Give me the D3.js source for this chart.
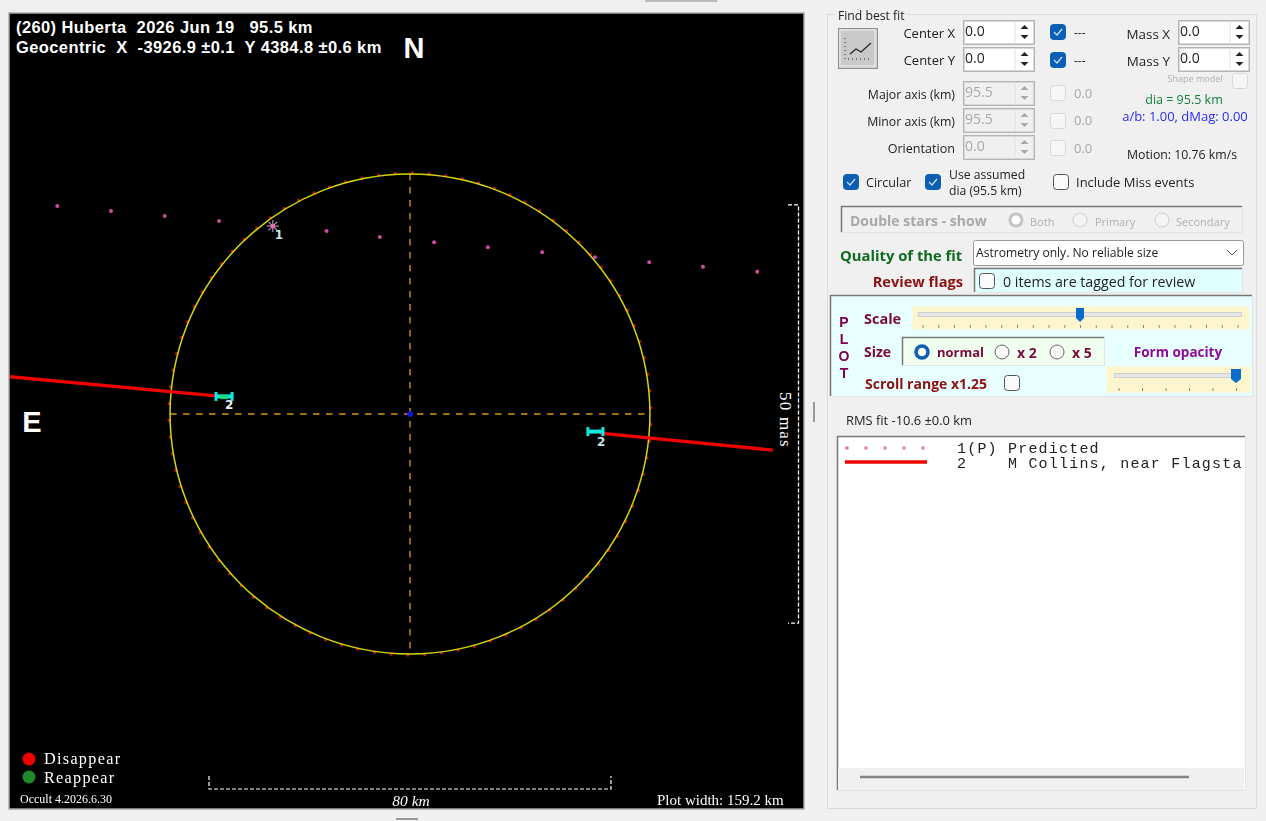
<!DOCTYPE html>
<html>
<head>
<meta charset="utf-8">
<title>(260) Huberta</title>
<script src="https://cdn.jsdelivr.net/npm/d3@7"></script>
<style>
  html, body { margin: 0; padding: 0; background: #f0f0f0; overflow: hidden; }
  svg { display: block; filter: blur(0.35px); }
  text { white-space: pre; }
</style>
</head>
<body>
<svg id="main" width="1266" height="821"></svg>
<script>
// predicted path, km east / north of the centre
var predictedEast = [70.2, 59.5, 48.8, 38.0, 27.3, 16.6, 6.0, -4.8, -15.5, -26.3, -36.8, -47.6, -58.3, -69.1]
var predictedNorth = [41.4, 40.4, 39.4, 38.4, 37.4, 36.4, 35.2, 34.2, 33.2, 32.2, 31.2, 30.2, 29.3, 28.3]
// observed chord, outer and inner ends of the two pieces
var chordLeftEast = [79.6, 38.6]
var chordLeftNorth = [7.4, 3.6]
var chordRightEast = [-37.8, -72.2]
var chordRightNorth = [-3.8, -7.2]
// error bars at the chord ends
var errorLeftEast = [38.6, 35.4]
var errorLeftNorth = [3.5, 3.5]
var errorRightEast = [-35.4, -38.4]
var errorRightNorth = [-3.5, -3.5]
var diameterKm = 95.5
var limbAngles = d3.range(0.5, 360, 4)
var scaleBarKm = [40, -40]
var masBarKm = [41.6, -41.6]
var listRows = ["1(P)", "2"]
var listNames = ["Predicted", "M Collins, near Flagsta"]

var svg = d3.select("#main")
var uiFont = "'Open Sans', 'Noto Sans', sans-serif"

// km -> pixel scales; east is on the left
var x = d3.scaleLinear().domain([80, -80]).range([8, 812])
var y = d3.scaleLinear().domain([80, -80]).range([12, 816])
var rPx = x(0) - x(diameterKm / 2)

function label(g, str, px, py, o) {
  o = o || {}
  return g.append("text")
    .attr("x", px).attr("y", py)
    .attr("font-family", o.font || uiFont)
    .attr("font-size", o.size || 12)
    .attr("font-weight", o.weight || "normal")
    .attr("font-style", o.style || "normal")
    .attr("letter-spacing", o.spacing || 0)
    .attr("fill", o.fill || "#222")
    .attr("text-anchor", o.anchor || "start")
    .attr("dominant-baseline", "central")
    .text(str)
}

// ---------- plot panel ----------
var plot = svg.append("g")
plot.append("rect").attr("x", 9).attr("y", 13).attr("width", 795).attr("height", 796)
  .attr("fill", "#000").attr("stroke", "#a8a8a8").attr("stroke-width", 1.5)

var clip = svg.append("clipPath").attr("id", "plot-clip")
clip.append("rect").attr("x", 10).attr("y", 14).attr("width", 794).attr("height", 794)
var inner = plot.append("g").attr("clip-path", "url(#plot-clip)")

// 十字线
inner.append("line").attr("x1", x(47.75)).attr("x2", x(-47.75)).attr("y1", y(0)).attr("y2", y(0))
  .attr("stroke", "#a0720f").attr("stroke-width", 1.8).attr("stroke-dasharray", "6.5,6.5")
inner.append("line").attr("y1", y(47.75)).attr("y2", y(-47.75)).attr("x1", x(0)).attr("x2", x(0))
  .attr("stroke", "#a0720f").attr("stroke-width", 1.8).attr("stroke-dasharray", "6.5,6.5")

// limb marks and outline
inner.selectAll("circle.limb").data(limbAngles).enter().append("circle")
  .attr("class", "limb")
  .attr("cx", function (d) { return x(0) + (rPx + 1) * Math.sin(d * Math.PI / 180) })
  .attr("cy", function (d) { return y(0) - (rPx + 1) * Math.cos(d * Math.PI / 180) })
  .attr("r", 1.7).attr("fill", "#a81414")
inner.append("circle").attr("cx", x(0)).attr("cy", y(0)).attr("r", rPx)
  .attr("fill", "none").attr("stroke", "#d6d60a").attr("stroke-width", 1.5)
inner.append("circle").attr("cx", x(0)).attr("cy", y(0)).attr("r", 3).attr("fill", "#1414e0")

// predicted path
inner.selectAll("circle.pred").data(predictedEast).enter().append("circle")
  .attr("class", "pred")
  .attr("cx", function (d) { return x(d) })
  .attr("cy", function (d, i) { return y(predictedNorth[i]) })
  .attr("r", 2).attr("fill", "#d04c9c")

// star marker at the predicted centre
var starX = x(predictedEast[4]), starY = y(predictedNorth[4])
d3.range(0, 180, 45).forEach(function (a) {
  var dx = 6 * Math.cos(a * Math.PI / 180), dy = 6 * Math.sin(a * Math.PI / 180)
  inner.append("line").attr("x1", starX - dx).attr("x2", starX + dx).attr("y1", starY - dy).attr("y2", starY + dy)
    .attr("stroke", "#b9a0b4").attr("stroke-width", 1.1)
})
inner.append("circle").attr("cx", starX).attr("cy", starY).attr("r", 2.4).attr("fill", "#f06ab4")
label(inner, "1", starX + 2, starY + 9, { fill: "#bfe8e8", size: 12, font: "'DejaVu Sans'", weight: 700 })

// chord pieces
var chordLine = d3.line().x(function (d) { return x(d[0]) }).y(function (d) { return y(d[1]) })
inner.append("path").attr("d", chordLine(d3.zip(chordLeftEast, chordLeftNorth)))
  .attr("fill", "none").attr("stroke", "#f00000").attr("stroke-width", 3.4)
inner.append("path").attr("d", chordLine(d3.zip(chordRightEast, chordRightNorth)))
  .attr("fill", "none").attr("stroke", "#f00000").attr("stroke-width", 3.4)

function errorBar(east, north) {
  inner.append("line").attr("x1", x(east[0])).attr("x2", x(east[1])).attr("y1", y(north[0])).attr("y2", y(north[1]))
    .attr("stroke", "#10e8e0").attr("stroke-width", 4)
  east.forEach(function (d, i) {
    inner.append("line").attr("x1", x(d)).attr("x2", x(d)).attr("y1", y(north[i]) - 4.5).attr("y2", y(north[i]) + 4.5)
      .attr("stroke", "#10e8e0").attr("stroke-width", 3)
  })
}
errorBar(errorLeftEast, errorLeftNorth)
errorBar(errorRightEast, errorRightNorth)
inner.append("line").attr("x1", x(37.8)).attr("x2", x(36.2)).attr("y1", y(3.4)).attr("y2", y(3.4))
  .attr("stroke", "#10d880").attr("stroke-width", 4.5)
label(inner, "2", x(errorLeftEast[1]) - 7, y(errorLeftNorth[0]) + 9, { fill: "#eef", size: 12, font: "'DejaVu Sans'", weight: 700 })
label(inner, "2", x(errorRightEast[0]) + 9, y(errorRightNorth[0]) + 10, { fill: "#bfe8f0", size: 12, font: "'DejaVu Sans'", weight: 700 })

// headings
var titleFont = "'Liberation Sans', sans-serif"
label(plot, "(260) Huberta  2026 Jun 19   95.5 km", 16, 27, { fill: "#fff", weight: 700, size: 16.5, font: titleFont, spacing: 0.4 })
label(plot, "Geocentric  X  -3926.9 ±0.1  Y 4384.8 ±0.6 km", 16, 47, { fill: "#fff", weight: 700, size: 16.5, font: titleFont, spacing: 0.4 })
label(plot, "N", 414, 48, { fill: "#fff", weight: 700, size: 29, font: titleFont, anchor: "middle" })
label(plot, "E", 32, 422, { fill: "#fff", weight: 700, size: 29, font: titleFont, anchor: "middle" })

// 50 mas bracket
var bracket = d3.path()
bracket.moveTo(788, y(masBarKm[0]))
bracket.lineTo(798.5, y(masBarKm[0]))
bracket.lineTo(798.5, y(masBarKm[1]))
bracket.lineTo(788, y(masBarKm[1]))
plot.append("path").attr("d", bracket.toString()).attr("fill", "none")
  .attr("stroke", "#fff").attr("stroke-width", 1.3).attr("stroke-dasharray", "4,2")
label(plot, "50 mas", 0, 0, { fill: "#fff", size: 17, font: "'Liberation Serif'", anchor: "middle", spacing: 1.2 })
  .attr("transform", "translate(785,420) rotate(90)")

// 80 km bar
var bar = d3.path()
bar.moveTo(x(scaleBarKm[0]), 776)
bar.lineTo(x(scaleBarKm[0]), 789)
bar.lineTo(x(scaleBarKm[1]), 789)
bar.lineTo(x(scaleBarKm[1]), 776)
plot.append("path").attr("d", bar.toString()).attr("fill", "none")
  .attr("stroke", "#fff").attr("stroke-width", 1.2).attr("stroke-dasharray", "4,2")
label(plot, "80 km", x(0) + 1, 800, { fill: "#fff", size: 15.5, style: "italic", font: "'Liberation Serif'", anchor: "middle" })
label(plot, "Plot width: 159.2 km", 657, 800, { fill: "#fff", size: 15, font: "'Liberation Serif'" })
label(plot, "Occult 4.2026.6.30", 20, 799, { fill: "#fff", size: 12, font: "'Liberation Serif'" })

plot.append("circle").attr("cx", 29).attr("cy", 759).attr("r", 6.5).attr("fill", "#f00000")
plot.append("circle").attr("cx", 29).attr("cy", 777).attr("r", 6.5).attr("fill", "#1f8a2a")
label(plot, "Disappear", 44, 758.5, { fill: "#fff", size: 16.2, font: "'Liberation Serif'", spacing: 1.3 })
label(plot, "Reappear", 44, 777.5, { fill: "#fff", size: 16.2, font: "'Liberation Serif'", spacing: 1.3 })

// ---------- right hand form ----------
var form = svg.append("g")

function box(px, py, w, h, fill, stroke, rx) {
  return form.append("rect").attr("x", px + 0.5).attr("y", py + 0.5).attr("width", w).attr("height", h)
    .attr("fill", fill || "none").attr("stroke", stroke || "none").attr("rx", rx || 0)
}
function insetBox(px, py, w, h, fill) {
  box(px, py, w, h, fill, "#e4e4e4")
  form.append("path").attr("d", "M" + (px + 0.5) + "," + (py + h) + "V" + (py + 0.5) + "H" + (px + w))
    .attr("fill", "none").attr("stroke", "#777").attr("stroke-width", 1.5)
}
function spin(px, py, value, enabled) {
  var w = 71, h = 24, col = enabled ? "#222" : "#a8a8a8"
  box(px, py, w, h, enabled ? "#fff" : "#f0f0f0", "#b4b4b4")
  box(px + 1, py + 1, w - 2, h - 2, null, "#d8d8d8")
  form.append("line").attr("x1", px + 52).attr("x2", px + 52).attr("y1", py + 1).attr("y2", py + h)
    .attr("stroke", "#e0e0e0")
  label(form, value, px + 2, py + 10.5, { size: 14, fill: col })
  var cx = px + 61.5, cy = py + 12
  form.append("path").attr("d", "M" + (cx - 4) + "," + (cy - 3) + "L" + cx + "," + (cy - 7) + "L" + (cx + 4) + "," + (cy - 3) + "Z").attr("fill", col)
  form.append("path").attr("d", "M" + (cx - 4) + "," + (cy + 3) + "L" + cx + "," + (cy + 7) + "L" + (cx + 4) + "," + (cy + 3) + "Z").attr("fill", col)
}
function check(px, py, state) {
  // state: 1 ticked, 0 empty, -1 disabled
  if (state === 1) {
    box(px, py, 15, 15, "#0a5fb4", "#0a5fb4", 3)
    form.append("path").attr("d", "M" + (px + 4) + "," + (py + 8) + "l3,3l5,-6")
      .attr("fill", "none").attr("stroke", "#cfe4f7").attr("stroke-width", 1.2)
  } else if (state === 0) {
    box(px, py, 15, 15, "#fbfbfb", "#555", 3)
  } else {
    box(px, py, 15, 15, "#f6f6f6", "#d8d8d8", 3)
  }
}
function radio(cx, cy, state) {
  if (state === 1) {
    form.append("circle").attr("cx", cx).attr("cy", cy).attr("r", 6).attr("fill", "#fff")
      .attr("stroke", "#0a5fb4").attr("stroke-width", 3.5)
  } else if (state === 0) {
    form.append("circle").attr("cx", cx).attr("cy", cy).attr("r", 7).attr("fill", "#fafafa").attr("stroke", "#666")
  } else if (state === 2) {
    form.append("circle").attr("cx", cx).attr("cy", cy).attr("r", 6).attr("fill", "#fff")
      .attr("stroke", "#c4c4c4").attr("stroke-width", 3)
  } else {
    form.append("circle").attr("cx", cx).attr("cy", cy).attr("r", 7).attr("fill", "#f4f4f4").attr("stroke", "#cfcfcf")
  }
}
function slider(bx, by, bw, bh, tx, tw, ty, thumbX, thumbW, tick0, step, n, tickY) {
  box(bx, by, bw, bh, "#fdf5cd")
  box(tx, ty - 2, tw, 4, "#e6e6e6", "#d0d0d0")
  d3.range(n).forEach(function (i) {
    form.append("line").attr("x1", tick0 + i * step).attr("x2", tick0 + i * step)
      .attr("y1", tickY).attr("y2", tickY + 3).attr("stroke", "#888")
  })
  form.append("path")
    .attr("d", "M" + (thumbX - thumbW / 2) + "," + (ty - 6) + "h" + thumbW + "v10l-" + (thumbW / 2) + ",4l-" + (thumbW / 2) + ",-4z")
    .attr("fill", "#0a6ccc")
}

// group frame
box(827, 14, 429, 794, "#f0f0f0", "#dcdcdc")
form.append("rect").attr("x", 835).attr("y", 8).attr("width", 72).attr("height", 14).attr("fill", "#f0f0f0")
label(form, "Find best fit", 838, 15, { size: 12.2 })

// fit button
box(838, 28, 39, 40, "#d0d0d0", "#8c8c8c")
form.append("rect").attr("x", 840).attr("y", 30).attr("width", 35).attr("height", 36).attr("fill", "#c9c9c9").attr("stroke", "#eee")
form.append("path").attr("d", "M850,54L856,49L861,52L871,43").attr("fill", "none").attr("stroke", "#222").attr("stroke-width", 1.2)
form.append("path").attr("d", "M845,38V59H871").attr("fill", "none").attr("stroke", "#333").attr("stroke-dasharray", "1,3")

label(form, "Center X", 955, 33, { anchor: "end", size: 13 })
label(form, "Center Y", 955, 60, { anchor: "end", size: 13 })
spin(963, 20, "0.0", true)
spin(963, 47, "0.0", true)
check(1050, 24, 1)
check(1050, 52, 1)
label(form, "---", 1074, 32, { size: 12 })
label(form, "---", 1074, 60, { size: 12 })
label(form, "Mass X", 1170, 34, { anchor: "end", size: 13.4 })
label(form, "Mass Y", 1170, 61, { anchor: "end", size: 13.4 })
spin(1178, 20, "0.0", true)
spin(1178, 47, "0.0", true)
label(form, "Shape model", 1195, 78, { anchor: "middle", size: 9, fill: "#b0b0b0" })
check(1232, 73, -1)

label(form, "Major axis (km)", 955, 94, { anchor: "end", size: 12.3 })
label(form, "Minor axis (km)", 955, 121, { anchor: "end", size: 12.3 })
label(form, "Orientation", 955, 148, { anchor: "end", size: 12.6 })
spin(963, 81, "95.5", false)
spin(963, 108, "95.5", false)
spin(963, 135, "0.0", false)
check(1050, 85, -1)
check(1050, 113, -1)
check(1050, 140, -1)
label(form, "0.0", 1074, 93, { fill: "#a8a8a8", size: 13 })
label(form, "0.0", 1074, 120, { fill: "#a8a8a8", size: 13 })
label(form, "0.0", 1074, 148, { fill: "#a8a8a8", size: 13 })
label(form, "dia = 95.5 km", 1184, 99, { anchor: "middle", fill: "#12803a", size: 12.5 })
label(form, "a/b: 1.00, dMag: 0.00", 1185, 116, { anchor: "middle", fill: "#2a2aff", size: 13 })
label(form, "Motion: 10.76 km/s", 1182, 154, { anchor: "middle", size: 12.3 })

check(843, 174, 1)
label(form, "Circular", 866, 182, { size: 12.6 })
check(925, 174, 1)
label(form, "Use assumed", 949, 174, { size: 12.2 })
label(form, "dia (95.5 km)", 949, 190, { size: 12.2 })
check(1053, 174, 0)
label(form, "Include Miss events", 1076, 182, { size: 13 })

// double stars
insetBox(841, 206, 401, 26, "#f0f0f0")
label(form, "Double stars - show", 850, 220, { weight: 700, size: 14, fill: "#a8a8a8" })
radio(1016, 220, 2)
label(form, "Both", 1030, 221, { size: 11, fill: "#b0b0b0" })
radio(1080, 220, -1)
label(form, "Primary", 1095, 221, { size: 11, fill: "#b0b0b0" })
radio(1162, 220, -1)
label(form, "Secondary", 1176, 221, { size: 11, fill: "#b0b0b0" })

// quality of the fit
label(form, "Quality of the fit", 840, 255, { weight: 700, size: 14.8, fill: "#0f6b1e" })
box(973, 240, 270, 25, "#fff", "#999", 2)
label(form, "Astrometry only. No reliable size", 976, 252, { size: 12.1 })
form.append("path").attr("d", "M1227,250l5,5l5,-5").attr("fill", "none").attr("stroke", "#555")
label(form, "Review flags", 963, 281, { anchor: "end", weight: 700, size: 14.6, fill: "#8c1010" })
insetBox(974, 268, 268, 24, "#e0ffff")
check(979, 273, 0)
label(form, "0 items are tagged for review", 1003, 281, { size: 14.2 })

// plot settings
insetBox(830, 295, 422, 101, "#e8ffff")
var letters = ["P", "L", "O", "T"]
var letterY = [322, 339, 356, 373]
letters.forEach(function (d, i) {
  label(form, d, 844, letterY[i], { anchor: "middle", weight: 700, size: 14, fill: "#800050", font: "'Liberation Sans'" })
})
label(form, "Scale", 864, 318, { weight: 700, size: 14.5, fill: "#7a0a3c" })
slider(912, 306, 337, 23, 918, 323, 314, 1080, 8, 923, 15.75, 21, 325)
label(form, "Size", 864, 351, { weight: 700, size: 14, fill: "#7a0a3c" })
insetBox(902, 337, 202, 28, "#f0fff0")
radio(922, 352, 1)
label(form, "normal", 937, 352, { weight: 700, size: 13, fill: "#7a0a3c" })
radio(1002, 352, 0)
label(form, "x 2", 1017, 352, { weight: 700, size: 14, fill: "#7a0a3c" })
radio(1057, 352, 0)
label(form, "x 5", 1072, 352, { weight: 700, size: 14, fill: "#7a0a3c" })
label(form, "Form opacity", 1178, 352, { anchor: "middle", weight: 700, size: 13.5, fill: "#8c0a9c" })
label(form, "Scroll range x1.25", 865, 383, { weight: 700, size: 14, fill: "#8c1010" })
check(1004, 375, 0)
slider(1106, 366, 144, 26, 1114, 126, 375, 1236, 10, 1119, 23.5, 6, 388)

// RMS and list box
label(form, "RMS fit -10.6 ±0.0 km", 846, 420, { size: 12.9 })
insetBox(837, 436, 408, 354, "#fff")
var listDots = d3.range(847, 924, 19)
form.selectAll("circle.list").data(listDots).enter().append("circle")
  .attr("class", "list")
  .attr("cx", function (d) { return d }).attr("cy", 448)
  .attr("r", 1.8).attr("fill", "#f070b8")
form.append("line").attr("x1", 845).attr("x2", 927).attr("y1", 462).attr("y2", 462)
  .attr("stroke", "#f00000").attr("stroke-width", 3.5)
listRows.forEach(function (d, i) {
  label(form, d, 957, 449 + i * 15, { font: "'Liberation Mono'", size: 15, spacing: 1.2 })
  label(form, listNames[i], 1008, 449 + i * 15, { font: "'Liberation Mono'", size: 15, spacing: 1.2 })
})
form.append("rect").attr("x", 838).attr("y", 768).attr("width", 406).attr("height", 22).attr("fill", "#f0f0f0")
form.append("line").attr("x1", 860).attr("x2", 1189).attr("y1", 777).attr("y2", 777)
  .attr("stroke", "#858585").attr("stroke-width", 2.5)

// window grips
form.append("rect").attr("x", 645).attr("y", 0).attr("width", 72).attr("height", 2).attr("fill", "#bbb")
form.append("rect").attr("x", 396).attr("y", 818).attr("width", 22).attr("height", 2).attr("fill", "#999")
form.append("rect").attr("x", 813).attr("y", 402).attr("width", 2).attr("height", 20).attr("fill", "#999")
</script>
</body>
</html>
